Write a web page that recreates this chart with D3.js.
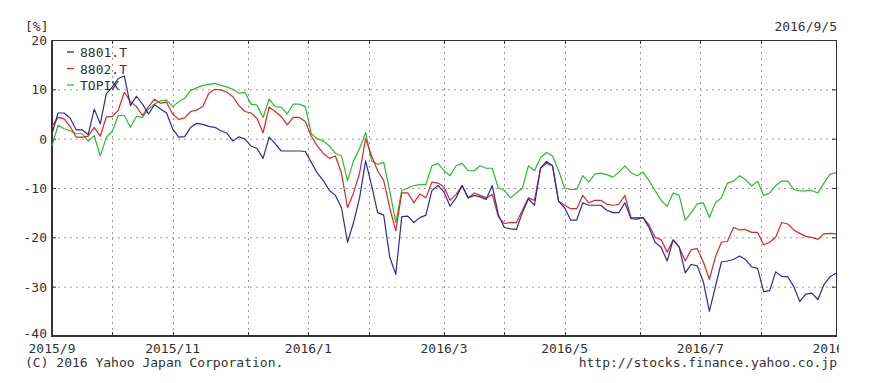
<!DOCTYPE html>
<html>
<head>
<meta charset="utf-8">
<script src="https://cdn.jsdelivr.net/npm/d3@7"></script>
<style>
  body { margin: 0; background: #fff; }
  text { font-family: "DejaVu Sans Mono", monospace; font-size: 13px; fill: #333; }
</style>
</head>
<body>
<div id="chart"></div>
<script>
// one value every second weekday, from 2015/9/7 to 2016/9/5 (percent change)
const seriesNames = ["8801.T", "8802.T", "TOPIX"];
const seriesColors = ["#2b2ba6", "#d62a2a", "#2ebb2e"];

const values8801 = [
  1, 5.2, 5.2, 4.2, 1.8, 1.8, 0.8, 6.0, 3, 9.1, 10.5, 12.2, 12.7, 6.7, 8.6, 7, 5, 6.9, 6, 5.2,
  2, 0.3, 0.4, 2.3, 3.1, 2.9, 2.5, 2.3, 1.6, 1.1, -0.5, 0.4, -0.1,
  -1.5, -2, -4, 0.3, -1, -2.5, -2.5, -2.5, -2.5, -2.6, -4.8, -7, -8.5, -10.5, -11.5, -14, -21, -17,
  -12, -4.5, -9.5, -15, -15.5, -24, -27.5, -15.8, -15.7, -17, -16, -15.5, -10.5, -9.5,
  -10.8, -13.7, -12, -9.5, -12, -11.5, -11.8, -12.3, -9.5, -15.4, -18, -18.3, -18.4, -15, -12.2, -13.5,
  -6, -4.6, -5.5, -12.7, -14, -16.5, -16.5, -13, -13.5, -13.5, -13.5, -14.5, -15, -15, -13, -16.2, -16.3,
  -16, -18, -21, -22, -24.8, -20.5, -22, -27.2, -25.5, -25.8, -29, -35, -30, -25, -24.8, -24.5,
  -23.8, -24.5, -26, -26.3, -31, -30.8, -27, -27.9, -28, -30, -33, -31.5, -31.3, -32.6, -29.6, -28, -27.3
];
const values8802 = [
  2.5, 4.3, 4, 2.5, 0.3, 0.3, 0.5, 2.3, 0.5, 4.4, 4.5, 5.8, 9.4, 7.5, 6.5, 4.7, 6.5, 8, 7.2, 7.4,
  5, 3.9, 4.2, 5.5, 5.8, 6.5, 9.2, 10, 9.9, 9.4, 8.5, 6.7, 5.5,
  5.2, 4.1, 1.2, 6.4, 5.5, 4.5, 2.8, 4.3, 4.3, 3.5, 0.5, -1.5, -3, -4, -3.5, -7, -14, -11,
  -7, 0, -3.5, -6.5, -8.5, -14, -18.7, -11, -11, -13, -11.2, -12, -8.8, -9,
  -9.8, -12.5, -11.3, -9.5, -12, -11, -11.5, -12, -11.3, -15.8, -17.2, -17, -17, -14.5, -12, -12.5,
  -6, -5, -5.5, -12.7, -13.5, -14.2, -14.2, -11.5, -13, -12.5, -12.5, -13.3, -13.5, -13.3, -11.5, -16, -16,
  -16, -17.5, -20, -20.5, -23, -20.5, -22, -24.8, -22.5, -22.3, -25, -28.5, -24, -21, -20.8, -18,
  -18.5, -18.4, -19, -19, -21.5, -21, -20, -17, -17.3, -18.5, -19.2, -19.8, -20, -20.4, -19.3, -19.2, -19.3
];
const valuesTopix = [
  -1.5, 2.7, 2, 1.6, 1, 1, -0.5, 0.6, -3.5, 0.2, 1.5, 4.7, 4.7, 2.3, 4.5, 4.3, 6, 7, 7.7, 7.8,
  6.5, 7.5, 8.2, 9.8, 10.3, 10.8, 11, 11.2, 10.8, 10.5, 10, 9.2, 9.4,
  7, 6.8, 4.3, 8, 6.5, 6.4, 5, 7, 7, 6.5, 1, 0, -0.5, -1.5, -3, -3.5, -8.5, -4.5,
  -2, 1.2, -4.5, -5.2, -4.8, -10.6, -17, -10.5, -10, -9.5, -9.3, -9.3, -5.5, -5,
  -6.5, -7.5, -5.5, -5, -6.5, -6.5, -5.5, -6, -6, -10, -10.5, -12, -11, -10, -5.5, -6.5,
  -3.8, -2.8, -3.5, -6.5, -10, -10.3, -10.3, -7.5, -8.8, -7.2, -7, -7.3, -7.8, -6.8, -5.5, -6.9, -7.5,
  -6.8, -8.5, -10.5, -12.5, -13.7, -11, -11.5, -16.5, -15, -13.2, -13, -16, -13, -12, -9, -8.6,
  -7.5, -8.3, -9.6, -8.6, -11.5, -11, -9.5, -8.6, -8.6, -10.3, -10.6, -10.6, -10.5, -11, -9, -7.2, -6.9
];

const yTicks = [20, 10, 0, -10, -20, -30, -40];
const monthTicks = ["2015/9", "2015/10", "2015/11", "2015/12", "2016/1", "2016/2", "2016/3",
  "2016/4", "2016/5", "2016/6", "2016/7", "2016/8", "2016/9"];
const labelledMonths = ["2015/9", "2015/11", "2016/1", "2016/3", "2016/5", "2016/7", "2016/9"];

const W = 870, H = 383;
const margin = { top: 40, right: 34, bottom: 47, left: 52 };
const width = W - margin.left - margin.right;
const height = H - margin.top - margin.bottom;

// the chart's time axis counts weekdays only
const firstDay = new Date(2015, 8, 7), lastDay = new Date(2016, 8, 5);
const weekdays = d3.timeDay.range(firstDay, d3.timeDay.offset(lastDay, 1))
  .filter(d => d.getDay() !== 0 && d.getDay() !== 6);
const dayIndex = new Map(weekdays.map((d, i) => [+d, i]));
const sampleDays = weekdays.filter((d, i) => i % 2 === 0);

const svg = d3.select("#chart").append("svg")
  .attr("width", W).attr("height", H);

const x = d3.scaleLinear().domain([0, weekdays.length - 1]).range([margin.left, margin.left + width]);
const y = d3.scaleLinear().domain([-40, 20]).range([margin.top + height, margin.top]);

const parseMonth = d3.timeParse("%Y/%m");
const monthX = m => x(dayIndex.get(+d3.timeMonday.ceil(parseMonth(m))));

// grid
const grid = svg.append("g").attr("stroke", "#999").attr("stroke-dasharray", "2,4");
grid.selectAll("line.h").data(yTicks.slice(1, -1)).join("line")
  .attr("x1", margin.left).attr("x2", margin.left + width)
  .attr("y1", d => y(d) + 0.5).attr("y2", d => y(d) + 0.5);
grid.selectAll("line.v").data(monthTicks.slice(1, -1)).join("line")
  .attr("x1", d => Math.round(monthX(d)) + 0.5).attr("x2", d => Math.round(monthX(d)) + 0.5)
  .attr("y1", margin.top).attr("y2", margin.top + height);

// frame and inward ticks
const frame = svg.append("g").attr("stroke", "#333").attr("fill", "none");
frame.append("rect")
  .attr("x", margin.left + 0.5).attr("y", margin.top + 0.5)
  .attr("width", width).attr("height", height).attr("stroke-width", 1);
frame.append("line").attr("x1", margin.left).attr("x2", margin.left)
  .attr("y1", margin.top).attr("y2", margin.top + height + 1).attr("stroke-width", 2);
frame.append("line").attr("x1", margin.left).attr("x2", margin.left + width + 1)
  .attr("y1", margin.top + height).attr("y2", margin.top + height).attr("stroke-width", 2);
yTicks.forEach(t => {
  frame.append("line").attr("x1", margin.left).attr("x2", margin.left + 4)
    .attr("y1", y(t) + 0.5).attr("y2", y(t) + 0.5);
  frame.append("line").attr("x1", margin.left + width - 4).attr("x2", margin.left + width)
    .attr("y1", y(t) + 0.5).attr("y2", y(t) + 0.5);
});
monthTicks.forEach(m => {
  const px = Math.round(monthX(m)) + 0.5;
  frame.append("line").attr("x1", px).attr("x2", px)
    .attr("y1", margin.top + height).attr("y2", margin.top + height - 4);
  frame.append("line").attr("x1", px).attr("x2", px)
    .attr("y1", margin.top).attr("y2", margin.top + 4);
});

// axis labels
svg.selectAll("text.ytick").data(yTicks).join("text")
  .attr("class", "ytick")
  .attr("x", margin.left - 5).attr("y", d => Math.min(y(d) + 5, 338))
  .attr("text-anchor", "end").text(d => d);

svg.append("clipPath").attr("id", "lblclip").append("rect")
  .attr("x", 0).attr("y", 0).attr("width", 839).attr("height", H);
svg.append("g").attr("clip-path", "url(#lblclip)")
  .selectAll("text").data(labelledMonths).join("text")
  .attr("x", d => monthX(d)).attr("y", 353)
  .attr("text-anchor", "middle").text(d => d);

svg.append("text").attr("x", 25).attr("y", 31).text("[%]");
svg.append("text").attr("x", 837).attr("y", 31).attr("text-anchor", "end").text("2016/9/5");
svg.append("text").attr("x", 25).attr("y", 367).text("(C) 2016 Yahoo Japan Corporation.");
svg.append("text").attr("x", 837).attr("y", 367).attr("text-anchor", "end").text("http://stocks.finance.yahoo.co.jp");

// legend
const legend = svg.append("g");
seriesNames.forEach((name, i) => {
  const ly = 57 + i * 16.5;
  legend.append("line").attr("x1", 67).attr("x2", 74)
    .attr("y1", ly - 5).attr("y2", ly - 5)
    .attr("stroke", seriesColors[i]).attr("stroke-width", 1.3);
  legend.append("text").attr("x", 80).attr("y", ly).text(name);
});

// lines
const allSeries = [values8801, values8802, valuesTopix];
const line = d3.line()
  .x((d, i) => x(dayIndex.get(+sampleDays[i])))
  .y(d => y(d));
[2, 1, 0].forEach(s => {
  svg.append("path")
    .datum(allSeries[s])
    .attr("fill", "none")
    .attr("stroke", seriesColors[s])
    .attr("stroke-width", 1.2)
    .attr("stroke-linejoin", "round")
    .attr("d", line);
});
</script>
</body>
</html>
